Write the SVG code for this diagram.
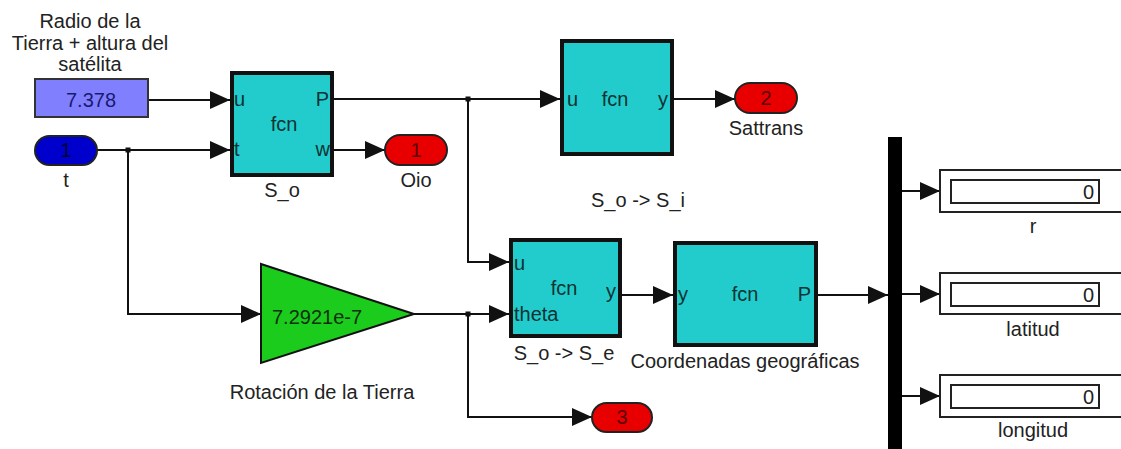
<svg xmlns="http://www.w3.org/2000/svg" width="1121" height="449" viewBox="0 0 1121 449">
<style>
text{font-family:"Liberation Sans",Arial,sans-serif;font-size:20px;fill:#222}
.lbl{text-anchor:middle}
.fcn{fill:#22CCCC;stroke:#111;stroke-width:4}
.bt{fill:#0d3333}
.out{fill:#E80000;stroke:#222;stroke-width:2}
.ot{fill:#5a0000;text-anchor:middle}
.w{fill:none;stroke:#111;stroke-width:2}
.disp{fill:#fff;stroke:#222;stroke-width:2}
.dot{fill:#111}
</style>
<defs>
<marker id="ah" viewBox="0 0 20 18" markerWidth="20" markerHeight="18" refX="20" refY="9" markerUnits="userSpaceOnUse" orient="auto">
<path d="M0,0 L20,9 L0,18 z" fill="#111"/>
</marker>
</defs>
<rect width="1121" height="449" fill="#fff"/>

<g id="connectors">
<path class="w" d="M148,100 H230" marker-end="url(#ah)"/>
<path class="w" d="M97,150 H230" marker-end="url(#ah)"/>
<path class="w" d="M128,150 V314 H261" marker-end="url(#ah)"/>
<path class="w" d="M334,150 H385" marker-end="url(#ah)"/>
<path class="w" d="M334,99 H560" marker-end="url(#ah)"/>
<path class="w" d="M468,99 V262 H509" marker-end="url(#ah)"/>
<path class="w" d="M674,99 H735" marker-end="url(#ah)"/>
<path class="w" d="M414,314 H509" marker-end="url(#ah)"/>
<path class="w" d="M468,314 V417 H592" marker-end="url(#ah)"/>
<path class="w" d="M622,295 H673" marker-end="url(#ah)"/>
<path class="w" d="M818,295 H888" marker-end="url(#ah)"/>
<path class="w" d="M902,191 H940" marker-end="url(#ah)"/>
<path class="w" d="M902,294 H940" marker-end="url(#ah)"/>
<path class="w" d="M902,396 H940" marker-end="url(#ah)"/>
<rect class="dot" x="125.5" y="147.5" width="5" height="5"/>
<rect class="dot" x="465.5" y="96.5" width="5" height="5"/>
<rect class="dot" x="465.5" y="311.5" width="5" height="5"/>
</g>

<g id="const">
<text class="lbl" x="90" y="28">Radio de la</text>
<text class="lbl" x="90" y="50">Tierra + altura del</text>
<text class="lbl" x="90" y="71">satélita</text>
<rect x="35" y="79" width="113" height="38" fill="#8080FF" stroke="#333" stroke-width="2"/>
<text class="lbl" x="91" y="107" style="fill:#1a1a70">7.378</text>
</g>

<g id="in_t">
<rect x="35" y="136" width="62" height="29" rx="14.5" fill="#0000CC" stroke="#222" stroke-width="2"/>
<text class="lbl" x="66" y="157" style="fill:#000033">1</text>
<text class="lbl" x="66" y="187">t</text>
</g>

<g id="S_o">
<rect class="fcn" x="232" y="73" width="100" height="102"/>
<text class="bt" x="234" y="106">u</text>
<text class="bt" x="234" y="156">t</text>
<text class="bt" x="329" y="106" text-anchor="end">P</text>
<text class="bt" x="330" y="156" text-anchor="end">w</text>
<text class="bt" x="284" y="131" text-anchor="middle">fcn</text>
<text class="lbl" x="282" y="197">S_o</text>
</g>

<g id="out_Oio">
<rect class="out" x="385" y="135" width="62" height="30" rx="15"/>
<text class="ot" x="416" y="157">1</text>
<text class="lbl" x="416" y="187">Oio</text>
</g>

<g id="S_i">
<rect class="fcn" x="562" y="41" width="110" height="113"/>
<text class="bt" x="567" y="106">u</text>
<text class="bt" x="615" y="106" text-anchor="middle">fcn</text>
<text class="bt" x="668" y="106" text-anchor="end">y</text>
<text class="lbl" x="638" y="207">S_o -&gt; S_i</text>
</g>

<g id="out_Sattrans">
<rect class="out" x="735" y="83" width="62" height="30" rx="15"/>
<text class="ot" x="766" y="105">2</text>
<text class="lbl" x="766" y="135">Sattrans</text>
</g>

<g id="gain">
<polygon points="261,264 414,314 261,363" fill="#1CCC1C" stroke="#111" stroke-width="2"/>
<text x="272" y="324" style="fill:#0b2f0b">7.2921e-7</text>
<text class="lbl" x="322" y="399">Rotación de la Tierra</text>
</g>

<g id="S_e">
<rect class="fcn" x="511" y="240" width="109" height="96"/>
<text class="bt" x="514" y="270">u</text>
<text class="bt" x="564" y="295" text-anchor="middle">fcn</text>
<text class="bt" x="616" y="298" text-anchor="end">y</text>
<text class="bt" x="514" y="321">theta</text>
<text class="lbl" x="564" y="360">S_o -&gt; S_e</text>
</g>

<g id="out_3">
<rect class="out" x="592" y="403" width="60" height="29" rx="14.5"/>
<text class="ot" x="622" y="424">3</text>
</g>

<g id="coord">
<rect class="fcn" x="675" y="243" width="141" height="102"/>
<text class="bt" x="678" y="301">y</text>
<text class="bt" x="745" y="301" text-anchor="middle">fcn</text>
<text class="bt" x="811" y="301" text-anchor="end">P</text>
<text class="lbl" x="745" y="368">Coordenadas geográficas</text>
</g>

<g id="bus">
<rect x="888" y="137" width="14" height="320" fill="#000"/>
</g>

<g id="disp_r">
<rect class="disp" x="940" y="170" width="200" height="42"/>
<rect class="disp" x="951" y="180" width="148" height="23"/>
<text x="1094" y="199" text-anchor="end">0</text>
<text class="lbl" x="1033" y="233">r</text>
</g>

<g id="disp_lat">
<rect class="disp" x="940" y="273" width="200" height="41"/>
<rect class="disp" x="951" y="283" width="148" height="23"/>
<text x="1094" y="302" text-anchor="end">0</text>
<text class="lbl" x="1033" y="336">latitud</text>
</g>

<g id="disp_lon">
<rect class="disp" x="940" y="375" width="200" height="42"/>
<rect class="disp" x="951" y="385" width="148" height="23"/>
<text x="1094" y="404" text-anchor="end">0</text>
<text class="lbl" x="1033" y="437">longitud</text>
</g>
</svg>
